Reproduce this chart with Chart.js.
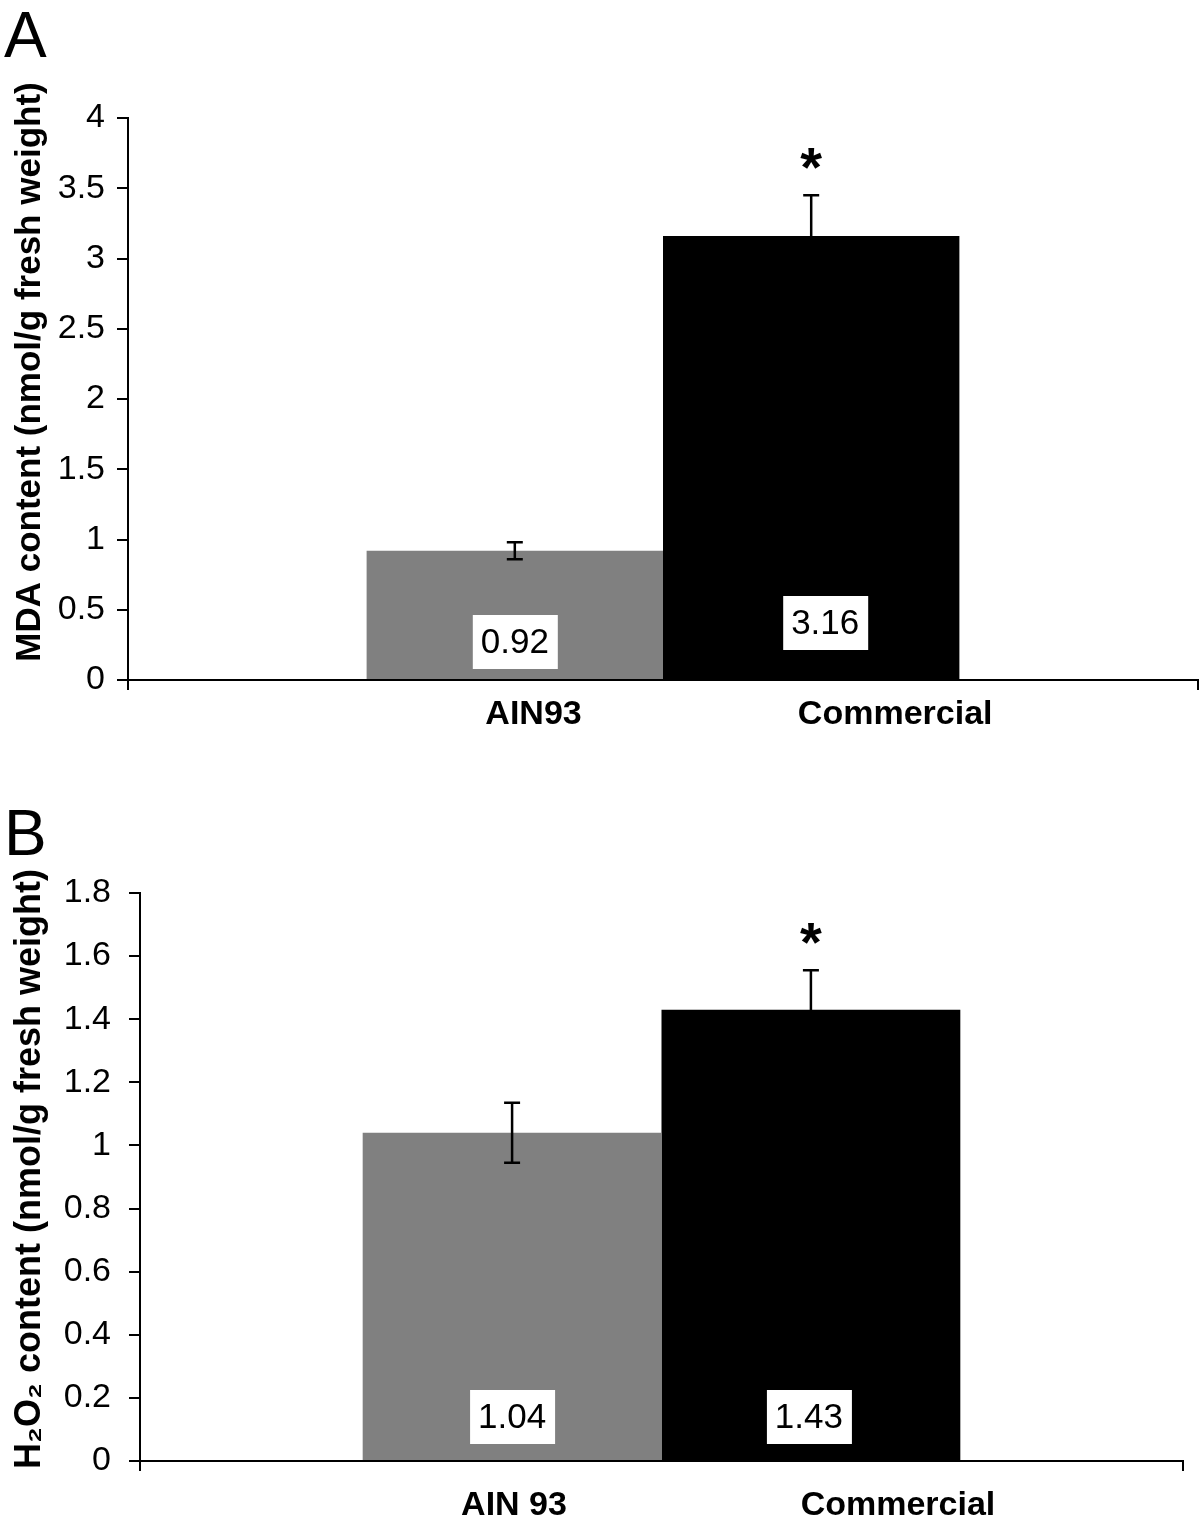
<!DOCTYPE html>
<html>
<head>
<meta charset="utf-8">
<title>MDA and H2O2 content</title>
<script src="https://cdn.jsdelivr.net/npm/chart.js@4.4.0/dist/chart.umd.min.js"></script>
<style>
    body { margin: 0; background: #fff; }
    #wrap { position: relative; width: 1200px; height: 1526px; }
    canvas { position: absolute; left: 0; }
    #chartA { top: 0; }
    #chartB { top: 770px; }
</style>
</head>
<body>
<div id="wrap">
    <canvas id="chartA" width="1200" height="770"></canvas>
    <canvas id="chartB" width="1200" height="756"></canvas>
</div>
<script>
// values
const dietsA = ["AIN93", "Commercial"];
const dietsB = ["AIN 93", "Commercial"];
const mdaMean = [0.92, 3.16];
const mdaSE = [0.06, 0.29];
const h2o2Mean = [1.04, 1.43];
const h2o2SE = [0.095, 0.125];
const starred = [false, true];
const mdaTicks = [0, 4, 0.5];      // min, max, step
const h2o2Ticks = [0, 1.8, 0.2];

const FONT = "'Liberation Sans', Arial, sans-serif";
const barColors = ["#808080", "#000000"];

// error bars, asterisks, value boxes, category names, axis title, panel letter
const decor = {
    id: "decor",
    afterDatasetsDraw(chart, args, o) {
        const ctx = chart.ctx;
        const y = chart.scales.y;
        ctx.save();
        o.means.forEach(function(m, i) {
            const bar = chart.getDatasetMeta(i).data[0];
            const top = y.getPixelForValue(m + o.errs[i]);
            const bot = y.getPixelForValue(m - o.errs[i]);
            ctx.strokeStyle = "#000";
            ctx.lineWidth = 2.5;
            ctx.beginPath();
            ctx.moveTo(bar.x, top); ctx.lineTo(bar.x, bot);
            ctx.moveTo(bar.x - 8, top); ctx.lineTo(bar.x + 8, top);
            ctx.moveTo(bar.x - 8, bot); ctx.lineTo(bar.x + 8, bot);
            ctx.stroke();

            if (starred[i]) {
                ctx.fillStyle = "#000";
                ctx.font = "bold 56px " + FONT;
                ctx.textAlign = "center";
                ctx.textBaseline = "alphabetic";
                const mt = ctx.measureText("*");
                const cy = top - 37;
                ctx.fillText("*", bar.x, cy + (mt.actualBoundingBoxAscent - mt.actualBoundingBoxDescent) / 2);
            }

            const bx = bar.x + o.boxShift[i][0];
            const by = y.getPixelForValue(0) + o.boxShift[i][1];
            ctx.fillStyle = "#fff";
            ctx.fillRect(bx - 42, by - 27, 85, 54);
            ctx.fillStyle = "#000";
            ctx.font = "35px " + FONT;
            ctx.textAlign = "center";
            ctx.textBaseline = "middle";
            ctx.fillText(m.toFixed(2), bx, by + 1);
        });
        ctx.restore();
    },
    afterDraw(chart, args, o) {
        const ctx = chart.ctx;
        const area = chart.chartArea;
        ctx.save();
        ctx.fillStyle = "#000";

        ctx.font = "bold 34px " + FONT;
        ctx.textAlign = "center";
        ctx.textBaseline = "middle";
        o.names.forEach(function(n, i) {
            ctx.fillText(n, area.left + o.namePos[i] * (area.right - area.left), area.bottom + o.nameDy);
        });

        ctx.save();
        ctx.translate(o.titleX, o.titleY);
        ctx.rotate(-Math.PI / 2);
        ctx.font = "bold " + o.titleSize + "px " + FONT;
        ctx.textAlign = "center";
        ctx.textBaseline = "alphabetic";
        ctx.fillText(o.title, 0, 0);
        ctx.restore();

        ctx.font = "64px " + FONT;
        ctx.textAlign = "left";
        ctx.textBaseline = "alphabetic";
        ctx.fillText(o.letter, 4, o.letterY);
        ctx.restore();
    }
};

function makeChart(id, names, means, errs, ticks, lay) {
    return new Chart(document.getElementById(id), {
        type: "bar",
        data: {
            labels: [""],
            datasets: names.map(function(n, i) {
                return {
                    label: n,
                    data: [means[i]],
                    backgroundColor: barColors[i],
                    borderWidth: 0,
                    categoryPercentage: lay.catPct,
                    barPercentage: 1
                };
            })
        },
        options: {
            responsive: false,
            animation: false,
            layout: { padding: { top: lay.top, left: 0, right: lay.right, bottom: 0 } },
            plugins: {
                legend: { display: false },
                tooltip: { enabled: false },
                decor: {
                    means: means,
                    errs: errs,
                    names: names,
                    namePos: lay.namePos,
                    nameDy: lay.nameDy,
                    boxShift: lay.boxShift,
                    title: lay.title,
                    titleSize: lay.titleSize,
                    titleX: lay.titleX,
                    titleY: lay.titleY,
                    letter: lay.letter,
                    letterY: lay.letterY
                }
            },
            scales: {
                x: {
                    offset: true,
                    grid: { offset: true, drawOnChartArea: false, tickLength: 10, color: "#000", lineWidth: 2 },
                    border: { display: true, color: "#000", width: 2 },
                    ticks: { display: false },
                    afterFit: function(s) { s.height = lay.xH; }
                },
                y: {
                    min: ticks[0],
                    max: ticks[1],
                    ticks: {
                        stepSize: ticks[2],
                        color: "#000",
                        padding: lay.pad,
                        font: { family: FONT, size: 34 },
                        callback: function(v) { return String(+v.toFixed(2)); }
                    },
                    grid: { drawOnChartArea: false, tickLength: lay.tick, color: "#000", lineWidth: 2 },
                    border: { color: "#000", width: 2 },
                    afterFit: function(s) { s.width = lay.yW; }
                }
            }
        },
        plugins: [decor]
    });
}

makeChart("chartA", dietsA, mdaMean, mdaSE, mdaTicks, {
    top: 118, xH: 90, yW: 128, right: 2, tick: 11, pad: 12, catPct: 0.554,
    namePos: [0.379, 0.717], nameDy: 35,
    boxShift: [[0, -38], [14, -57]],
    title: "MDA content (nmol/g fresh weight)", titleSize: 35, titleX: 40, titleY: 372,
    letter: "A", letterY: 57
});

makeChart("chartB", dietsB, h2o2Mean, h2o2SE, h2o2Ticks, {
    top: 123, xH: 65, yW: 140, right: 17, tick: 11, pad: 18, catPct: 0.573,
    namePos: [0.3586, 0.7267], nameDy: 45,
    boxShift: [[0, -44], [-2, -44]],
    title: "H\u2082O\u2082 content (nmol/g fresh weight)", titleSize: 36, titleX: 40, titleY: 399,
    letter: "B", letterY: 85
});
</script>
</body>
</html>
